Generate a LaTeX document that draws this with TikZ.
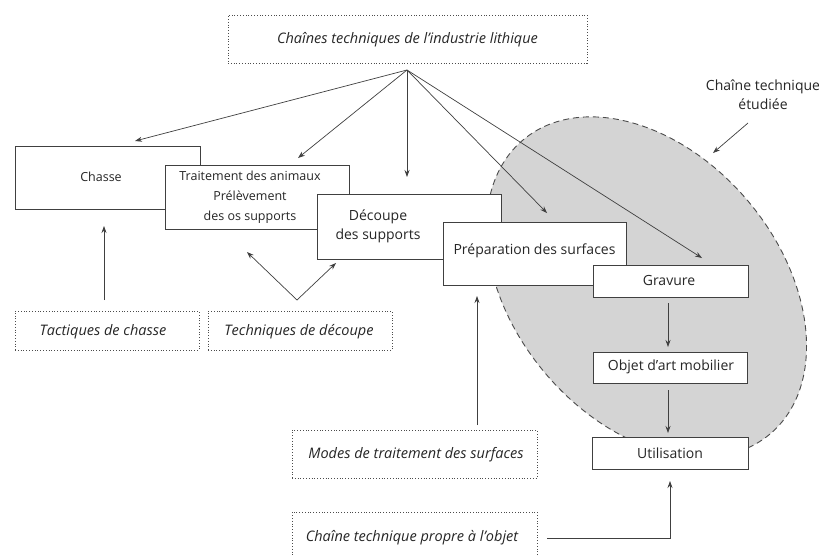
\documentclass[tikz,border=0pt]{standalone}
\usepackage{fontspec}
\setmainfont{Open Sans}
\usetikzlibrary{arrows.meta}
\begin{document}
\begin{tikzpicture}[x=1pt,y=-1pt,
  box/.style={draw=black!75, line width=0.7pt, fill=white, rectangle, inner sep=0pt},
  dbox/.style={draw=black!70, dotted, line width=0.8pt, rectangle, inner sep=0pt},
  txt/.style={font=\fontsize{14}{19}\selectfont, align=center, text=black!85, inner sep=0pt},
  stxt/.style={font=\fontsize{12.5}{20}\selectfont, align=center, text=black!85, inner sep=0pt},
  itxt/.style={font=\fontsize{14.5}{20}\selectfont\itshape, align=center, text=black!85, inner sep=0pt},
  arr/.style={draw=black!75, line width=0.7pt, -{Stealth[length=7pt,width=5pt]}},
  ln/.style={draw=black!75, line width=0.7pt}]
\clip (0,0) rectangle (819,555);
\fill[white] (0,0) rectangle (819,555);
% studied chain area
\draw[fill=black!17, draw=black!70, dash pattern=on 6pt off 4pt, line width=0.9pt,
      rotate around={-50:(646.5,287)}] (646.5,287) ellipse [x radius=192, y radius=133];
% top box
\node[dbox, minimum width=359, minimum height=48] (top) at (407.5,39) {};
\node[itxt] (topt) at (407.5,40) {Chaînes techniques de l'industrie lithique};
% chain boxes
\node[box, minimum width=185, minimum height=63] (chasse) at (107.5,177.5) {};
\node[stxt] (chasset) at (101,177) {Chasse};
\node[box, minimum width=184, minimum height=64] (trait) at (257,197) {};
\node[stxt] (traitt) at (250,197) {Traitement des animaux\\Prélèvement\\des os supports};
\node[box, minimum width=184, minimum height=65] (decoupe) at (409,226.5) {};
\node[txt] (decoupet) at (378,226) {Découpe\\des supports};
\node[box, minimum width=183, minimum height=63] (prep) at (534.5,253.5) {};
\node[txt] (prept) at (534.5,251) {Préparation des surfaces};
\node[box, minimum width=155, minimum height=32] (grav) at (670.5,281) {};
\node[txt] (gravt) at (669,280) {Gravure};
\node[box, minimum width=154, minimum height=31] (objet) at (670.5,367.5) {};
\node[txt] (objett) at (671,367) {Objet d'art mobilier};
\node[box, minimum width=156, minimum height=32] (util) at (670,453) {};
\node[txt] (utilt) at (670,453) {Utilisation};
% dotted boxes
\node[dbox, minimum width=184, minimum height=39] (tact) at (107,330.5) {};
\node[itxt] (tactt) at (103,332) {Tactiques de chasse};
\node[dbox, minimum width=184, minimum height=39] (techdec) at (300,330.5) {};
\node[itxt] (techdect) at (299,332) {Techniques de découpe};
\node[dbox, minimum width=245, minimum height=48] (modes) at (414.5,454) {};
\node[itxt] (modest) at (416,455) {Modes de traitement des surfaces};
\node[dbox, minimum width=245, minimum height=50] (propre) at (414.5,537) {};
\node[itxt] (propret) at (412,538) {Chaîne technique propre à l'objet};
% label
\node[txt] (etud) at (763,95) {Chaîne technique\\étudiée};
% coordinates
\coordinate (fan) at (407,70);
\coordinate (chin) at (135,141);
\coordinate (trin) at (298,158);
\coordinate (dein) at (407,177);
\coordinate (prin) at (547,213);
\coordinate (grin) at (702,258);
\coordinate (ta1) at (104,300);
\coordinate (ta2) at (104,226);
\coordinate (vx) at (297,300);
\coordinate (v1) at (247,252);
\coordinate (v2) at (336,263);
\coordinate (mo1) at (477,425);
\coordinate (mo2) at (477,296);
\coordinate (go1) at (668,303);
\coordinate (go2) at (668,347);
\coordinate (ou1) at (668,390);
\coordinate (ou2) at (668,433);
\coordinate (pr1) at (547,538);
\coordinate (pr2) at (670,538);
\coordinate (pr3) at (670,481);
\coordinate (et1) at (748,123);
\coordinate (et2) at (713,153);
% arrows
\draw[arr] (fan) -- (chin);
\draw[arr] (fan) -- (trin);
\draw[arr] (fan) -- (dein);
\draw[arr] (fan) -- (prin);
\draw[arr] (fan) -- (grin);
\draw[arr] (ta1) -- (ta2);
\draw[arr] (vx) -- (v1);
\draw[arr] (vx) -- (v2);
\draw[arr] (mo1) -- (mo2);
\draw[arr] (go1) -- (go2);
\draw[arr] (ou1) -- (ou2);
\draw[arr] (pr1) -- (pr2) -- (pr3);
\draw[arr] (et1) -- (et2);
\end{tikzpicture}
\end{document}
